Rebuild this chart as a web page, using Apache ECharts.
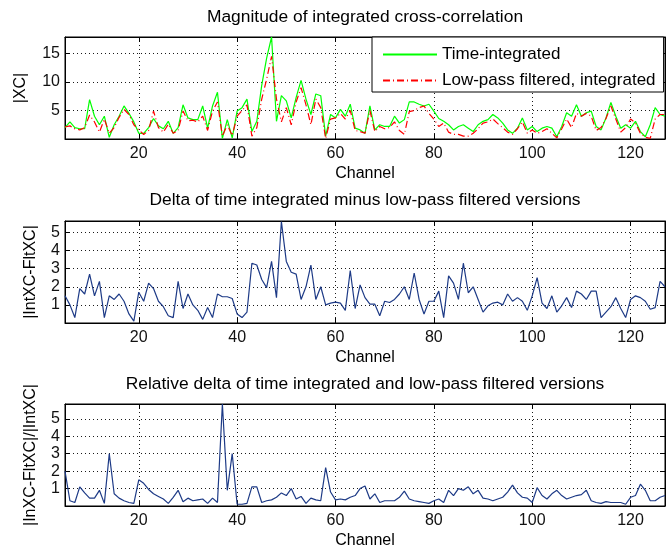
<!DOCTYPE html>
<html>
<head>
<meta charset="utf-8">
<script src="https://cdn.jsdelivr.net/npm/echarts@6/dist/echarts.min.js"></script>
<style>
  html, body { margin: 0; padding: 0; background: #fff; }
  #chart { width: 666px; height: 552px; }
</style>
</head>
<body>
<div id="chart"></div>
<script>
// Channel range shown on every panel
const firstChannel = 5;
const lastChannel = 127;

// |XC| per channel, time-integrated
const timeIntegrated = [
  2.0, 3.0, 2.0, 1.8, 1.8, 6.9, 4.0, 2.5, 4.0, 0.3,
  2.5, 4.0, 5.8, 4.5, 3.0, 1.0, 1.0, 2.0, 3.6, 2.3,
  1.8, 3.1, 1.0, 2.0, 6.0, 3.7, 3.4, 3.4, 5.8, 1.9,
  5.8, 8.2, 0.1, 3.4, 0.2, 4.9, 5.5, 7.0, 1.3, 3.1,
  9.4, 14.2, 17.9, 3.1, 7.6, 6.7, 3.7, 7.3, 10.3, 7.0,
  4.3, 7.9, 7.6, 0.5, 4.3, 3.7, 5.2, 4.0, 6.1, 1.9,
  1.6, 1.0, 5.8, 1.6, 2.5, 2.2, 2.2, 4.0, 2.8, 3.4,
  6.5, 6.5, 6.1, 5.8, 6.1, 4.9, 3.6, 3.1, 2.5, 1.6,
  2.2, 2.5, 1.9, 1.3, 2.5, 3.1, 3.4, 4.3, 3.7, 2.8,
  1.6, 1.0, 1.9, 3.7, 1.6, 2.2, 1.3, 1.9, 2.2, 1.9,
  0.4, 2.2, 4.6, 4.0, 6.0, 4.0, 4.6, 4.9, 2.2, 1.6,
  3.7, 6.4, 4.0, 1.9, 2.5, 1.9, 3.1, 1.3, 0.4, 2.5,
  5.5, 4.3, 4.0
];

// |XC| per channel, low-pass filtered then integrated
const lowPassIntegrated = [
  2.1, 2.3, 1.8, 1.6, 2.0, 4.2, 3.0, 1.2, 3.5, 1.0,
  2.0, 3.8, 5.2, 4.3, 2.5, 1.6, 0.8, 1.5, 4.9, 2.0,
  1.2, 2.6, 1.0, 1.5, 4.9, 3.2, 3.3, 3.0, 4.0, 1.5,
  4.9, 6.5, 0.5, 2.5, 0.6, 4.0, 5.0, 6.0, 0.5, 2.0,
  7.0, 10.5, 14.5, 7.0, 3.0, 5.5, 2.5, 6.5, 9.0, 6.0,
  2.5, 7.0, 5.5, 0.1, 3.5, 3.7, 4.5, 3.5, 5.0, 1.5,
  1.3, 1.0, 5.0, 1.3, 2.2, 1.8, 2.0, 3.0, 1.5, 0.8,
  4.8, 5.0, 5.5, 5.8, 4.5, 3.5, 2.2, 2.8, 1.2, 0.8,
  0.8, 0.5, 0.5, 1.0, 1.8, 2.8, 3.0, 3.5, 2.7, 2.0,
  1.2, 0.8, 1.8, 3.0, 1.0, 1.6, 1.0, 1.3, 1.8, 1.0,
  0.2, 1.8, 3.5, 2.0, 4.5, 4.0, 4.5, 4.0, 1.5, 2.0,
  3.6, 5.8, 3.5, 1.2, 2.0, 3.5, 2.8, 1.0, 0.3, 0.1,
  3.5, 4.3, 4.3
];

// |IntXC - FltXC|
const deltaAbs = [
  1.5, 1.0, 0.3, 1.9, 1.6, 2.7, 1.5, 2.3, 0.3, 1.5,
  1.3, 1.6, 1.2, 0.5, 0.1, 1.7, 1.2, 2.2, 1.9, 1.2,
  0.9, 0.4, 0.3, 2.3, 0.8, 1.6, 1.0, 0.7, 0.2, 0.85,
  0.3, 1.6, 1.45, 1.45, 1.35, 0.5, 0.3, 0.6, 3.3, 3.2,
  2.4, 1.95, 3.4, 1.4, 5.6, 3.4, 2.8, 2.7, 1.3, 2.0,
  3.2, 1.3, 2.0, 1.0, 1.1, 1.15, 1.1, 0.7, 2.9, 0.8,
  2.1, 1.4, 1.04, 1.04, 0.4, 1.2, 1.13, 1.3, 1.6, 2.0,
  1.3, 2.76, 1.3, 0.5, 1.2, 1.2, 1.76, 0.3, 2.6, 2.2,
  1.3, 3.3, 1.67, 2.0, 1.3, 0.6, 0.95, 1.1, 1.15, 1.0,
  1.6, 1.2, 1.4, 1.2, 0.7, 1.5, 2.5, 1.1, 0.8, 1.5,
  0.6, 0.95, 1.4, 0.85, 1.76, 1.6, 1.3, 1.76, 1.76, 0.3,
  0.6, 0.9, 1.4, 0.8, 0.3, 1.3, 1.5, 1.4, 1.2, 0.76,
  0.85, 2.3, 2.0
];

// |IntXC - FltXC| / |IntXC|
const deltaRel = [
  2.0, 0.3, 0.2, 1.1, 0.75, 0.45, 0.45, 0.9, 0.15, 3.0,
  0.7, 0.45, 0.3, 0.2, 0.15, 1.5, 1.3, 0.95, 0.7, 0.55,
  0.4, 0.15, 0.5, 0.9, 0.25, 0.45, 0.3, 0.35, 0.4, 0.15,
  0.45, 0.2, 5.85, 0.9, 3.0, 0.1, 0.1, 0.15, 1.1, 1.1,
  0.2, 0.3, 0.35, 0.5, 0.75, 0.6, 1.0, 0.4, 0.55, 0.15,
  0.45, 0.35, 0.3, 2.2, 0.8, 0.35, 0.4, 0.35, 0.5, 0.6,
  1.0, 1.15, 0.4, 0.7, 0.2, 0.3, 0.3, 0.3, 0.5, 0.85,
  0.4, 0.3, 0.25, 0.2, 0.15, 0.3, 0.4, 0.2, 0.9, 0.6,
  1.0, 0.9, 1.1, 0.7, 0.9, 0.45, 0.4, 0.3, 0.4, 0.5,
  0.8, 1.2, 0.75, 0.5, 0.45, 0.2, 1.05, 0.6, 0.4, 0.7,
  0.9, 0.6, 0.4, 0.5, 0.6, 0.65, 0.9, 0.3, 0.2, 0.15,
  0.25, 0.2, 0.2, 0.2, 0.1, 0.5, 0.6, 1.25, 0.9, 0.3,
  0.3, 0.5, 0.6
];

const panelTitles = [
  'Magnitude of integrated cross-correlation',
  'Delta of time integrated minus low-pass filtered versions',
  'Relative delta of time integrated and low-pass filtered versions'
];
const yLabels = ['|XC|', '|IntXC-FltXC|', '|InXC-FltXC|/|IntXC|'];
const yMax = [17.9, 5.63, 5.85];
const yStep = [5, 1, 1];
const seriesNames = ['Time-integrated', 'Low-pass filtered, integrated'];

const channels = timeIntegrated.map((_, i) => firstChannel + i);
const pairs = (vals) => vals.map((v, i) => [channels[i], v]);

const FONT = "'Liberation Sans', Arial, Helvetica, sans-serif";
const gridTops = [37, 221, 404];
const gridH = 102;
const plotLeft = 65;
const plotW = 600;

const grids = [], xAxes = [], yAxes = [], titles = [];
const dotted = { color: '#1a1a1a', width: 1, type: [1, 3] };

gridTops.forEach((top, g) => {
  grids.push({
    left: plotLeft, top: top, width: plotW, height: gridH,
    show: true, borderColor: '#000', borderWidth: 1, backgroundColor: '#fff'
  });
  titles.push({
    text: panelTitles[g],
    left: plotLeft + plotW / 2, textAlign: 'center',
    top: [9, 192, 376][g], padding: 0,
    textStyle: { fontFamily: FONT, fontSize: 17.4, fontWeight: 'normal', color: '#000', lineHeight: 17 }
  });
  // bottom x axis with labels
  xAxes.push({
    gridIndex: g, type: 'value', position: 'bottom',
    min: firstChannel, max: lastChannel, splitNumber: 5,
    name: 'Channel', nameLocation: 'middle', nameGap: 27,
    nameTextStyle: { fontFamily: FONT, fontSize: 16, color: '#000', lineHeight: 16 },
    axisLine: { show: true, onZero: false, lineStyle: { color: '#000', width: 1 } },
    axisTick: { show: true, inside: true, length: 5, lineStyle: { color: '#000' } },
    axisLabel: { show: true, margin: 7, fontFamily: FONT, fontSize: 16, color: '#111',
                 showMinLabel: false, showMaxLabel: false },
    splitLine: { show: true, lineStyle: dotted }
  });
  // top x axis: ticks only
  xAxes.push({
    gridIndex: g, type: 'value', position: 'top',
    min: firstChannel, max: lastChannel, splitNumber: 5,
    axisLine: { show: true, onZero: false, lineStyle: { color: '#000', width: 1 } },
    axisTick: { show: true, inside: true, length: 5, lineStyle: { color: '#000' } },
    axisLabel: { show: false }, splitLine: { show: false }
  });
  // left y axis with labels
  yAxes.push({
    gridIndex: g, type: 'value', position: 'left',
    min: 0, max: yMax[g], interval: yStep[g],
    name: yLabels[g], nameLocation: 'middle', nameGap: g === 0 ? 36 : 26,
    nameTextStyle: { fontFamily: FONT, fontSize: 16, color: '#000' },
    axisLine: { show: true, onZero: false, lineStyle: { color: '#000', width: 1 } },
    axisTick: { show: true, inside: true, length: 5, lineStyle: { color: '#000' } },
    axisLabel: { show: true, margin: 5, fontFamily: FONT, fontSize: 16, color: '#111',
                 showMinLabel: false, showMaxLabel: false },
    splitLine: { show: true, lineStyle: dotted }
  });
  // right y axis: ticks only
  yAxes.push({
    gridIndex: g, type: 'value', position: 'right',
    min: 0, max: yMax[g], interval: yStep[g],
    axisLine: { show: true, onZero: false, lineStyle: { color: '#000', width: 1 } },
    axisTick: { show: true, inside: true, length: 5, lineStyle: { color: '#000' } },
    axisLabel: { show: false }, splitLine: { show: false }
  });
});

const lineBase = { type: 'line', symbol: 'none', showSymbol: false, smooth: false, animation: false };
const navy = '#1d3a86';

const option = {
  backgroundColor: '#fff',
  animation: false,
  title: titles,
  grid: grids,
  xAxis: xAxes,
  yAxis: yAxes,
  legend: {
    data: seriesNames,
    orient: 'vertical',
    left: 372, top: 37,
    padding: [9, 8, 3, 10],
    itemWidth: 54, itemHeight: 14, itemGap: 9,
    itemStyle: { opacity: 0 },
    backgroundColor: '#fff',
    borderColor: '#000', borderWidth: 1, borderRadius: 0,
    textStyle: { fontFamily: FONT, fontSize: 17, color: '#000' },
    selectedMode: false
  },
  series: [
    Object.assign({}, lineBase, {
      name: seriesNames[0], xAxisIndex: 0, yAxisIndex: 0,
      data: pairs(timeIntegrated),
      itemStyle: { color: '#00ff00' },
      lineStyle: { color: '#00ff00', width: 1.2 }
    }),
    Object.assign({}, lineBase, {
      name: seriesNames[1], xAxisIndex: 0, yAxisIndex: 0,
      data: pairs(lowPassIntegrated),
      itemStyle: { color: '#ff0000' },
      lineStyle: { color: '#ff0000', width: 1.2, type: [7, 3, 1, 3] }
    }),
    Object.assign({}, lineBase, {
      name: 'delta', xAxisIndex: 2, yAxisIndex: 2,
      data: pairs(deltaAbs),
      lineStyle: { color: navy, width: 1.2 }
    }),
    Object.assign({}, lineBase, {
      name: 'relative', xAxisIndex: 4, yAxisIndex: 4,
      data: pairs(deltaRel),
      lineStyle: { color: navy, width: 1.2 }
    })
  ]
};

const chart = echarts.init(document.getElementById('chart'), null, { renderer: 'canvas' });
chart.setOption(option);
</script>
</body>
</html>
